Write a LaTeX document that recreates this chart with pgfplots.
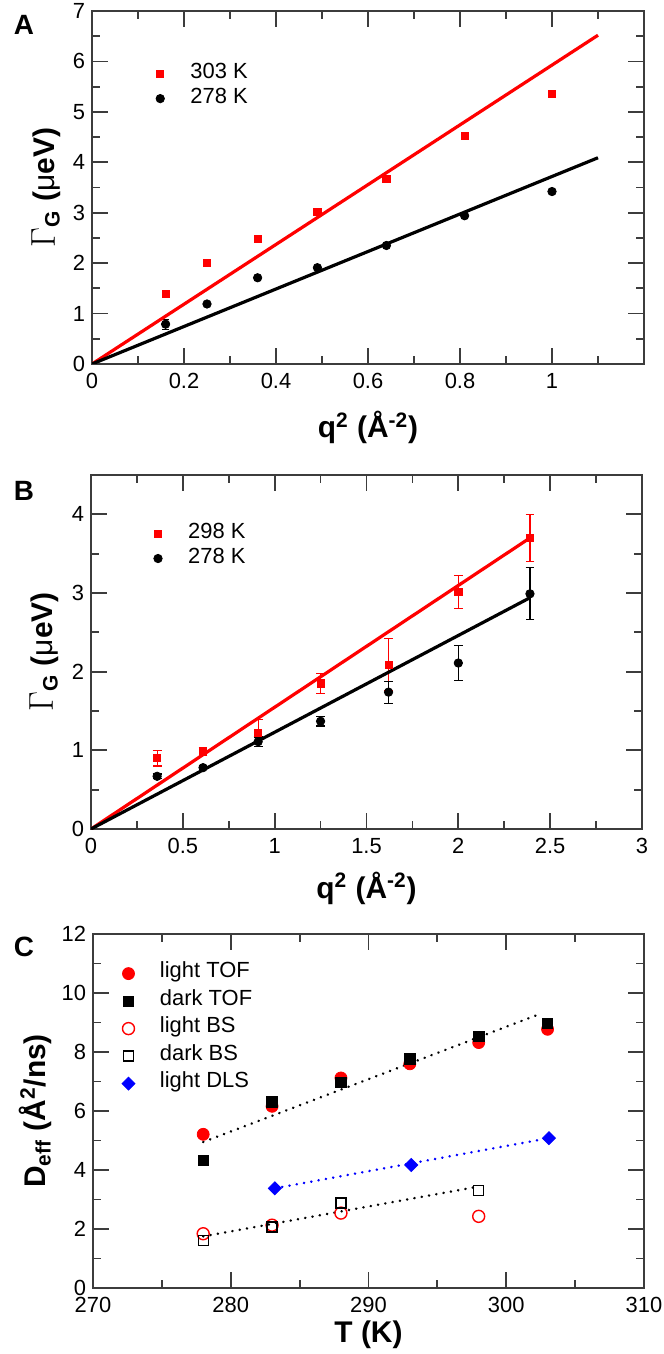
\documentclass[border=0pt]{standalone}
\usepackage{fontspec}
\setmainfont{Liberation Sans}
\usepackage{pgfplots}
\pgfplotsset{compat=1.18}

\definecolor{axgray}{RGB}{60,60,60}

\pgfplotsset{
  panel/.style={
    scale only axis,
    anchor=north west,
    axis line style={axgray, line width=1bp},
    every tick/.style={axgray, line width=0.9bp},
    tick align=inside,
    xtick pos=both, ytick pos=both,
    major tick length=8bp,
    minor tick length=4bp,
    tick label style={font=\fontsize{11}{13}\selectfont},
    xticklabel style={yshift=-1bp},
    /pgf/number format/assume math mode=true,
    label style={font=\bfseries\fontsize{15}{18}\selectfont},
    legend cell align=left,
    legend style={draw=none, fill=none, inner sep=0pt, outer sep=0pt,
      font=\fontsize{11}{13}\selectfont, column sep=13bp,
      nodes={inner sep=0pt, text height=8.5bp, text depth=4bp}},
  },
  fit/.style={line width=1.6bp, no markers, forget plot},
  dotfit/.style={line width=1.3bp, no markers, forget plot, line cap=round,
    dash pattern=on 0.1bp off 3.6bp},
}

\begin{document}
\begin{tikzpicture}
\useasboundingbox (0,0) rectangle (332bp,-677bp);

% ---------- A ----------
\begin{axis}[panel,
  at={(46bp,-5.5bp)}, width=276bp, height=176.5bp,
  xmin=0, xmax=1.2, ymin=0, ymax=7,
  xtick={0,0.2,...,1}, minor xtick={0.1,0.3,...,1.1},
  ytick={0,1,...,7}, minor ytick={0.5,1.5,...,6.5},
  xlabel={q\textsuperscript{2} (Å\textsuperscript{-2})},
  ylabel={{\fontsize{19}{19}\selectfont$\Gamma$}\textsubscript{G} ({\mdseries μ}eV)},
  xlabel style={at={(axis description cs:0.5,0)}, anchor=base, yshift=-37bp},
  ylabel style={at={(axis description cs:-0.083,0.5)}, anchor=center},
  legend style={at={(axis description cs:0.116,0.858)}, anchor=north west},
]
\addplot[only marks, mark=square*, mark size=1.8bp, red,
  error bars/.cd, y dir=both, y explicit,
  error bar style={red, line width=0.6bp},
  error mark options={rotate=90, mark size=1.6bp, red, line width=0.6bp}]
  coordinates {
  (0.16,1.39) +- (0,0.05)
  (0.25,2.00) +- (0,0.05)
  (0.36,2.48) +- (0,0.05)
  (0.49,3.02) +- (0,0.05)
  (0.64,3.67) +- (0,0.06)
  (0.81,4.52) +- (0,0.06)
  (1.00,5.36) +- (0,0.07)
};
\addlegendentry{303 K}
\addplot[only marks, mark=*, mark size=2.1bp, black,
  error bars/.cd, y dir=both, y explicit,
  error bar style={black, line width=0.6bp},
  error mark options={rotate=90, mark size=1.6bp, black, line width=0.6bp}]
  coordinates {
  (0.16,0.79) +- (0,0.10)
  (0.25,1.19) +- (0,0.05)
  (0.36,1.71) +- (0,0.04)
  (0.49,1.91) +- (0,0.04)
  (0.64,2.35) +- (0,0.04)
  (0.81,2.94) +- (0,0.05)
  (1.00,3.42) +- (0,0.05)
};
\addlegendentry{278 K}
\addplot[fit, red] coordinates {(0,0) (1.1,6.52)};
\addplot[fit, black] coordinates {(0,0) (1.1,4.09)};
\end{axis}
\node[font=\bfseries\fontsize{14}{16}\selectfont] at (12bp,-12.5bp) {A};

% ---------- B ----------
\begin{axis}[panel,
  at={(45.5bp,-237.5bp)}, width=275.5bp, height=177bp,
  xmin=0, xmax=3, ymin=0, ymax=4.5,
  xtick={0,0.5,...,3}, minor xtick={0.25,0.75,...,2.75},
  ytick={0,1,...,4}, minor ytick={0.5,1.5,...,3.5},
  xlabel={q\textsuperscript{2} (Å\textsuperscript{-2})},
  ylabel={{\fontsize{19}{19}\selectfont$\Gamma$}\textsubscript{G} ({\mdseries μ}eV)},
  xlabel style={at={(axis description cs:0.5,0)}, anchor=base, yshift=-34.5bp},
  ylabel style={at={(axis description cs:-0.085,0.5)}, anchor=center},
  legend style={at={(axis description cs:0.114,0.870)}, anchor=north west},
]
\addplot[only marks, mark=square*, mark size=1.8bp, red,
  error bars/.cd, y dir=both, y explicit,
  error bar style={red, line width=0.6bp},
  error mark options={rotate=90, mark size=2.2bp, red, line width=0.6bp}]
  coordinates {
  (0.36,0.90) +- (0,0.10)
  (0.61,0.98) +- (0,0.05)
  (0.91,1.22) +- (0,0.17)
  (1.25,1.85) +- (0,0.13)
  (1.62,2.09) +- (0,0.33)
  (2.00,3.01) +- (0,0.21)
  (2.39,3.70) +- (0,0.30)
};
\addlegendentry{298 K}
\addplot[only marks, mark=*, mark size=2.1bp, black,
  error bars/.cd, y dir=both, y explicit,
  error bar style={black, line width=0.6bp},
  error mark options={rotate=90, mark size=2.2bp, black, line width=0.6bp}]
  coordinates {
  (0.36,0.67) +- (0,0.03)
  (0.61,0.78) +- (0,0.02)
  (0.91,1.11) +- (0,0.06)
  (1.25,1.37) +- (0,0.06)
  (1.62,1.74) +- (0,0.14)
  (2.00,2.11) +- (0,0.22)
  (2.39,2.99) +- (0,0.33)
};
\addlegendentry{278 K}
\addplot[fit, red] coordinates {(0,0) (2.39,3.70)};
\addplot[fit, black] coordinates {(0,0) (2.39,2.94)};
\end{axis}
\node[font=\bfseries\fontsize{14}{16}\selectfont] at (12bp,-245.5bp) {B};

% ---------- C ----------
\begin{axis}[panel,
  at={(46.5bp,-467bp)}, width=275.5bp, height=177bp,
  xmin=270, xmax=310, ymin=0, ymax=12,
  xtick={270,280,...,310}, minor xtick={275,285,...,305},
  ytick={0,2,...,12}, minor ytick={1,3,...,11},
  xlabel={T (K)},
  ylabel={D\textsubscript{eff} (Å\textsuperscript{2}/ns)},
  xlabel style={at={(axis description cs:0.5,0)}, anchor=base, yshift=-27bp},
  ylabel style={at={(axis description cs:-0.105,0.5)}, anchor=center},
  legend style={at={(axis description cs:0.0526,0.927)}, anchor=north west,
    font=\fontsize{11}{13}\selectfont, column sep=12.5bp,
    nodes={inner sep=0pt, text height=9bp, text depth=4.75bp}},
]
\addplot[only marks, mark=*, mark size=3bp, red]
  coordinates {(278,5.21) (283,6.16) (288,7.12) (293,7.60) (298,8.32) (303,8.77)};
\addlegendentry{light TOF}
\addplot[only marks, mark=square*, mark size=2.6bp, black]
  coordinates {(278,4.32) (283,6.31) (288,6.97) (293,7.77) (298,8.52) (303,8.98)};
\addlegendentry{dark TOF}
\addplot[only marks, mark=o, mark size=3bp, red, mark options={line width=0.7bp}]
  coordinates {(278,1.84) (283,2.13) (288,2.54) (298,2.43)};
\addlegendentry{light BS}
\addplot[only marks, mark=square, mark size=2.5bp, black, mark options={line width=0.7bp}]
  coordinates {(278,1.62) (283,2.07) (288,2.88) (298,3.30)};
\addlegendentry{dark BS}
\addplot[only marks, mark=square*, mark size=2.3bp, blue, mark options={rotate=45}]
  coordinates {(283.2,3.38) (293.1,4.17) (303.1,5.08)};
\addlegendentry{light DLS}
\addplot[dotfit, black] coordinates {(278,4.95) (302.5,9.30)};
\addplot[dotfit, blue] coordinates {(283.2,3.38) (303.1,5.08)};
\addplot[dotfit, black] coordinates {(278,1.75) (298,3.44)};
\end{axis}
\node[font=\bfseries\fontsize{14}{16}\selectfont] at (12bp,-473.5bp) {C};
\end{tikzpicture}
\end{document}
